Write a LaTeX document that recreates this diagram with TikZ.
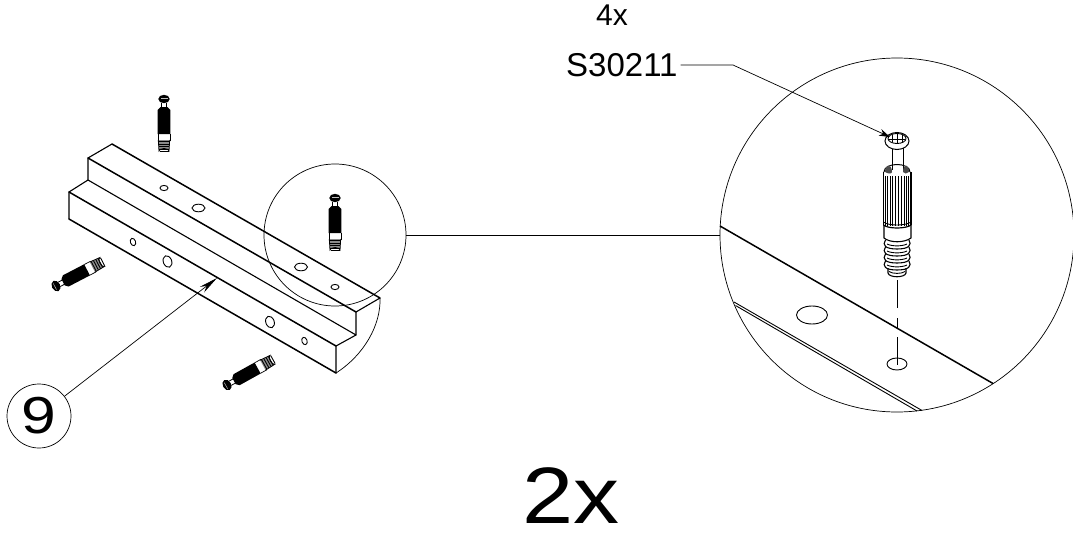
\documentclass[tikz,border=0pt]{standalone}
\usepackage{fontspec}
\setmainfont{Liberation Sans}
\usetikzlibrary{arrows.meta}
\tikzset{
  thinline/.style={line width=0.7pt,black},
  beamedge/.style={line width=1.5pt,black,line cap=round},
  beamthin/.style={line width=1.1pt,black,line cap=round},
  hole/.style={line width=0.9pt,black},
  lead/.style={line width=0.7pt,black},
  lab/.style={inner sep=0pt,text=black},
  detail/.style={circle,draw=black,line width=0.7pt,inner sep=0pt,fill=none},
  miniscrew/.pic={
    \fill[black] (-3.5,8) -- (3.5,8) -- (6.3,11) -- (6.3,35) -- (-6.3,35) -- (-6.3,11) -- cycle;
    \fill[black] (0,0) ellipse (5.7 and 4.2);
    \fill[black!25] (-3.5,-1.5) rectangle (3.5,-1);
    \draw[black,line width=.8pt] (-2.4,3.5) -- (-2.4,9) (2.4,3.5) -- (2.4,9);
    \draw[black,line width=.7pt] (-6,35) -- (-6,42) (6,35) -- (6,42);
    \fill[black!45] (-5.5,41) -- (5.5,41) -- (5,52) arc[start angle=0,end angle=-180,x radius=5,y radius=2.5] -- cycle;
    \draw[black,line width=.9pt] (-5.4,42.5) -- (5.4,42.5) (-5.2,45) -- (5.2,45) (-5.2,47.5) -- (5.2,47.5) (-5,50) -- (5,50) (-4.5,52.5) -- (4.5,52.5);
    \draw[black,line width=.8pt] (-5.7,41) -- (-5,52) arc[start angle=180,end angle=360,x radius=5,y radius=2.5] -- (5.7,41);
  },
}
\begin{document}
\begin{tikzpicture}[x=1pt,y=-1pt]
\useasboundingbox (0,0) rectangle (1073,535);
% small screws
\path (164,99) pic {miniscrew};
\path (335,198) pic {miniscrew};
\path (56,286) pic[rotate=117.5] {miniscrew};
\path (227,385) pic[rotate=119] {miniscrew};
% beam
\coordinate (b1) at (112,144);
\coordinate (b2) at (88,158);
\coordinate (b3) at (88,180);
\coordinate (b4) at (69,192);
\coordinate (b5) at (69,219);
\coordinate (e1) at (380,298);
\coordinate (e2) at (356,312);
\coordinate (e3) at (356,335);
\coordinate (e4) at (336,346);
\coordinate (e5) at (336,373);
\draw[beamedge] (b1) -- (e1) (b2) -- (e2) (b4) -- (e4) (b5) -- (e5);
\draw[beamthin] (b3) -- (e3);
\draw[beamthin] (b1) -- (b2) -- (b3) -- (b4) -- (b5);
\draw[beamthin] (e1) -- (e2) -- (e3) -- (e4) -- (e5);
\draw[thinline] (e1) .. controls (381,325) and (364,355) .. (e5);
% holes
\foreach \n/\x/\y/\a/\b in {h1/164/188/4/2.6, h2/198.5/208/6.5/3.8, h3/301/267/6.5/3.8, h4/335/287/4/2.6}{
  \draw[hole] (\x,\y) ellipse (\a pt and \b pt);
}
\draw[hole,rotate around={20:(133,242)}] (133,242) ellipse (2.6pt and 3.8pt);
\draw[hole,rotate around={20:(167.5,261.5)}] (167.5,261.5) ellipse (4.2pt and 6pt);
\draw[hole,rotate around={20:(270,322)}] (270,322) ellipse (4.2pt and 6pt);
\draw[hole,rotate around={20:(304.5,341)}] (304.5,341) ellipse (2.6pt and 3.8pt);
% detail circles
\node[detail,minimum size=142pt] (small) at (335,235) {};
\node[detail,minimum size=354pt] (big) at (897,235) {};
\draw[lead] (small.east) -- (big.west);
% big beam view
\draw[line width=1.5pt] (720,226) -- (993,383.5);
\draw[line width=.9pt] (734,302) -- (922,410.5);
\draw[line width=.9pt] (735.5,305.5) -- (917,411);
\draw[hole] (812,315) ellipse (15.5pt and 9pt);
\draw[hole] (897,364) ellipse (10pt and 6pt);
\draw[line width=.8pt,dash pattern=on 28pt off 10pt on 10pt off 9pt on 28pt off 100pt] (897,280) -- (897,365);
% big screw
\draw[line width=1pt] (892,148) -- (892,170) (903,148) -- (903,170);
\draw[line width=1pt] (884,172) .. controls (884,162) and (910,162) .. (910,172);
\fill[black!70] (885,172) .. controls (885,163) and (892,164) .. (892,172) .. controls (892,174) and (888,174) .. cycle;
\fill[black!70] (903,172) .. controls (903,164) and (909,163) .. (909,172) .. controls (907,174) and (904,174) .. cycle;
\draw[line width=1pt,fill=white] (897,141) ellipse (12pt and 8.5pt);
\draw[line width=.9pt] (897,138.5) ellipse (9pt and 5pt);
\draw[line width=.9pt] (892,135) -- (892,142) (897,134) -- (897,143) (902,135) -- (902,142) (889,139) -- (905,139);
\draw[line width=1.3pt] (883.5,172) -- (883.5,225) (911,172) -- (911,225);
\foreach \x/\w in {885.5/1.3,887.5/1.1,890/1,892.5/1,895.5/.9,898.5/.9,901.5/1,904/1,906.5/1.1,908.8/1.3}{
  \draw[line width=\w pt] (\x,176) -- (\x,226);
}
\draw[line width=1.2pt] (883.5,225) .. controls (888,229) and (906,229) .. (911,225);
\draw[line width=.9pt] (883.5,222) .. controls (888,226) and (906,226) .. (911,222);
\draw[line width=1.1pt] (884,225) -- (884,238) .. controls (890,243) and (904,243) .. (911,238) -- (911,225);
\foreach \y in {246,253,260,267}{
  \draw[line width=1.1pt] (885.5,\y-6) .. controls (882,\y-1) and (885,\y+3) .. (897,\y+3) .. controls (909,\y+3) and (912,\y-1) .. (909,\y-6);
  \draw[line width=.9pt] (887,\y-2) .. controls (892,\y+.5) and (902,\y+.5) .. (907,\y-2);
}
\draw[line width=1.1pt] (888,268) -- (888,273) .. controls (889,278) and (905,278) .. (906,273) -- (906,268);
\draw[line width=.9pt] (889,271.5) .. controls (892,274) and (902,274) .. (905,271.5);
% labels
\node[lab,font=\fontsize{30}{30}\selectfont] at (612,15) {4x};
\node[lab,anchor=west,font=\fontsize{33}{33}\selectfont] (part) at (566,65) {S30211};
\coordinate (bend) at (733,65);
\coordinate (ptip) at (890,137);
\draw[lead,-{Stealth[length=11pt,width=7pt]}] (part.east) ++(3,0) -- (bend) -- (ptip);
\node[detail,minimum size=64pt,font=\fontsize{52}{52}\selectfont] (nine) at (39,416) {\scalebox{1.2}[1]{9}};
\coordinate (ntip) at (217,278);
\draw[lead,-{Stealth[length=19pt,width=7pt]}] (nine) -- (ntip);
\node[lab,font=\fontsize{80}{80}\selectfont] at (571,496) {\scalebox{1.15}[1]{2x}};
\end{tikzpicture}
\end{document}
